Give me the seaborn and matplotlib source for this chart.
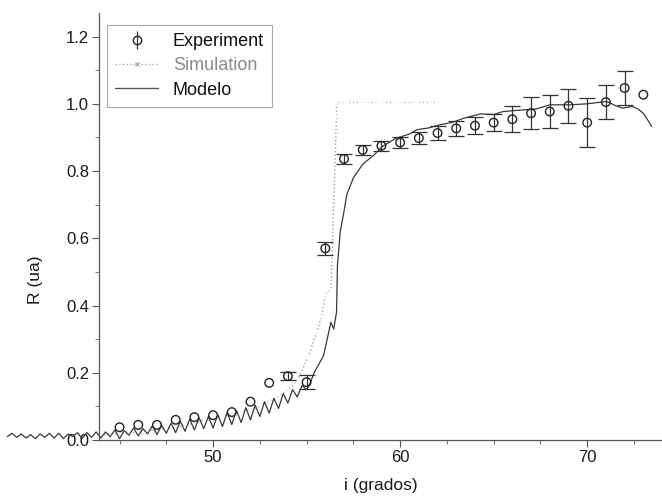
import matplotlib
matplotlib.use("Agg")
import matplotlib.pyplot as plt
import seaborn as sns
import pandas as pd
from matplotlib.lines import Line2D
from matplotlib.ticker import MultipleLocator

# ---------------- data ----------------
exp_x = [45, 46, 47, 48, 49, 50, 51, 52, 53, 54, 55, 56, 57, 58, 59, 60, 61,
         62, 63, 64, 65, 66, 67, 68, 69, 70, 71, 72, 73]
exp_y = [0.038, 0.045, 0.045, 0.060, 0.068, 0.074, 0.083, 0.114, 0.170, 0.190,
         0.172, 0.570, 0.836, 0.863, 0.875, 0.885, 0.898, 0.913, 0.927, 0.935,
         0.944, 0.954, 0.972, 0.977, 0.994, 0.944, 1.005, 1.047, 1.027]
exp_err = [0.0, 0.0, 0.0, 0.0, 0.0, 0.0, 0.0, 0.0, 0.0, 0.012,
           0.02, 0.02, 0.015, 0.015, 0.015, 0.015, 0.018, 0.02, 0.022, 0.025,
           0.025, 0.038, 0.048, 0.05, 0.05, 0.073, 0.05, 0.05, 0.0]

model_x = [39.00, 39.25, 39.50, 39.75, 40.00, 40.25, 40.50, 40.75, 41.00, 41.25,
           41.50, 41.75, 42.00, 42.25, 42.50, 42.75, 43.00, 43.25, 43.50, 43.75,
           44.00, 44.25, 44.50, 44.75, 45.00, 45.25, 45.50, 45.75, 46.00, 46.25,
           46.50, 46.75, 47.00, 47.25, 47.50, 47.75, 48.00, 48.25, 48.50, 48.75,
           49.00, 49.25, 49.50, 49.75, 50.00, 50.25, 50.50, 50.75, 51.00, 51.25,
           51.50, 51.75, 52.00, 52.25, 52.50, 52.75, 53.00, 53.25, 53.50, 53.75,
           54.00, 54.25, 54.50, 54.75, 55.00,
           55.2, 55.4, 55.6, 55.9, 56.1, 56.3, 56.45, 56.6, 56.65, 56.8, 57.0,
           57.15, 57.5, 58.0, 58.6, 59.1, 59.8, 60.5, 60.9, 61.5, 62.1, 62.8,
           63.4, 64.3, 65.0, 65.5, 66.6, 67.3, 68.0, 69.1, 70.0, 71.05, 71.5,
           71.9, 72.4, 72.7, 73.0, 73.2, 73.45]
model_y = [0.010, 0.020, 0.008, 0.018, 0.006, 0.016, 0.004, 0.018, 0.008, 0.020,
           0.006, 0.020, 0.004, 0.018, 0.010, 0.022, 0.004, 0.022, 0.008, 0.024,
           0.006, 0.024, 0.010, 0.030, 0.004, 0.028, 0.014, 0.036, 0.012, 0.034,
           0.018, 0.042, 0.016, 0.044, 0.020, 0.050, 0.022, 0.056, 0.026, 0.062,
           0.030, 0.066, 0.034, 0.070, 0.036, 0.076, 0.040, 0.082, 0.046, 0.088,
           0.052, 0.096, 0.060, 0.104, 0.070, 0.114, 0.080, 0.124, 0.094, 0.138,
           0.110, 0.150, 0.128, 0.162, 0.150,
           0.170, 0.200, 0.220, 0.250, 0.300, 0.350, 0.330, 0.380, 0.520, 0.620,
           0.680, 0.730, 0.780, 0.820, 0.848, 0.875, 0.898, 0.910, 0.923, 0.928,
           0.937, 0.945, 0.957, 0.970, 0.968, 0.977, 0.982, 0.985, 0.997, 0.997,
           1.000, 1.007, 0.995, 0.987, 0.992, 0.985, 0.972, 0.955, 0.932]

sim_x = [44.0, 44.5, 45.0, 45.5, 46.0, 46.5, 47.0, 47.5, 48.0, 48.5, 49.0, 49.5,
         50.0, 50.5, 51.0, 51.5, 52.0, 52.5, 53.0, 53.5, 54.0, 54.5, 55.1, 55.55,
         55.8, 56.0, 56.3, 56.6, 56.6, 56.85, 57.1, 57.35, 57.6, 57.85, 58.1,
         58.35, 58.6, 58.85, 59.1, 59.35, 59.6, 59.85, 60.1, 60.35, 60.6, 60.85,
         61.1, 61.35, 61.6, 61.9]
sim_y = [0.012, 0.020, 0.018, 0.025, 0.022, 0.030, 0.028, 0.036, 0.035, 0.045,
         0.050, 0.060, 0.058, 0.070, 0.075, 0.085, 0.090, 0.100, 0.115, 0.130,
         0.150, 0.175, 0.250, 0.320, 0.370, 0.430, 0.450, 0.965, 1.004, 1.004,
         1.004, 1.004, 1.004, 1.004, 1.004, 1.004, 1.004, 1.004, 1.004, 1.004,
         1.004, 1.004, 1.004, 1.004, 1.004, 1.004, 1.004, 1.004, 1.004, 1.004]

y_ticks = [0.0, 0.2, 0.4, 0.6, 0.8, 1.0, 1.2]
x_ticks = [50, 60, 70]

# ---------------- plot ----------------
sns.set_theme(style="ticks")
plt.rcParams["font.family"] = ["Liberation Sans", "DejaVu Sans"]

fig = plt.figure(figsize=(6.62, 4.99), dpi=100)
ax = fig.add_axes([0.1495, 0.1182, 0.8505, 0.8557])

model_df = pd.DataFrame({"x": model_x, "y": model_y})
sim_df = pd.DataFrame({"x": sim_x, "y": sim_y})
exp_df = pd.DataFrame({"x": exp_x, "y": exp_y, "err": exp_err})

sns.lineplot(data=sim_df, x="x", y="y", ax=ax, estimator=None, sort=False,
             color="#a0a0a0", linestyle=":", linewidth=1.0, marker="x",
             markersize=2.8, markeredgewidth=0.8, clip_on=False, legend=False)
sns.lineplot(data=model_df, x="x", y="y", ax=ax, estimator=None, sort=False,
             color="#3a3a3a", linewidth=0.9, clip_on=False, legend=False)

with_err = exp_df[exp_df["err"] > 0]
ax.errorbar(with_err["x"], with_err["y"], yerr=with_err["err"], fmt="none",
            ecolor="#333333", elinewidth=0.9, capsize=6, capthick=0.9,
            clip_on=False, zorder=4)
sns.scatterplot(data=exp_df, x="x", y="y", ax=ax, marker="o",
                facecolors="none", edgecolor="#222222", linewidth=1.0, s=38,
                clip_on=False, zorder=5, legend=False)

ax.set_xlim(43.9, 74.0)
ax.set_ylim(0.0, 1.27)
ax.set_xticks(x_ticks)
ax.set_yticks(y_ticks)
ax.set_yticklabels([f"{v:.1f}" for v in y_ticks])
ax.xaxis.set_minor_locator(MultipleLocator(2.5))
ax.yaxis.set_minor_locator(MultipleLocator(0.1))

for s in ["top", "right"]:
    ax.spines[s].set_visible(False)
for s in ["left", "bottom"]:
    ax.spines[s].set_color("#555555")
    ax.spines[s].set_linewidth(0.9)

ax.tick_params(axis="both", which="major", length=5, width=0.8,
               color="#555555", labelsize=12, labelcolor="#1a1a1a", pad=2)
ax.tick_params(axis="both", which="minor", length=3, width=0.7,
               color="#777777")

ax.set_xlabel("i (grados)", fontsize=12.5, color="#1a1a1a")
ax.set_ylabel("R (ua)", fontsize=12.5, color="#1a1a1a")
ax.xaxis.set_label_coords(0.50, -0.088)
ax.yaxis.set_label_coords(-0.100, 0.375)

h_exp = ax.errorbar([], [], yerr=[], fmt="o", mfc="none", mec="#222222", ms=6,
                    mew=1.0, ecolor="#333333", elinewidth=0.9, capsize=4)
h_sim = Line2D([], [], color="#b0b0b0", linestyle=":", linewidth=1.0,
               marker="x", markersize=2.5)
h_mod = Line2D([], [], color="#555555", linewidth=1.0)
leg = ax.legend([h_exp, h_sim, h_mod], ["Experiment", "Simulation", "Modelo"],
                loc="upper left", bbox_to_anchor=(0.014, 0.972),
                borderaxespad=0, fontsize=13, frameon=True, fancybox=False,
                edgecolor="#aaaaaa", framealpha=1, handlelength=2.4,
                handletextpad=0.8, labelspacing=0.4, borderpad=0.45)
leg.get_frame().set_linewidth(0.8)
leg.get_texts()[1].set_color("#8a8a8a")
for i in (0, 2):
    leg.get_texts()[i].set_color("#111111")

fig.savefig("out.png", dpi=100)
